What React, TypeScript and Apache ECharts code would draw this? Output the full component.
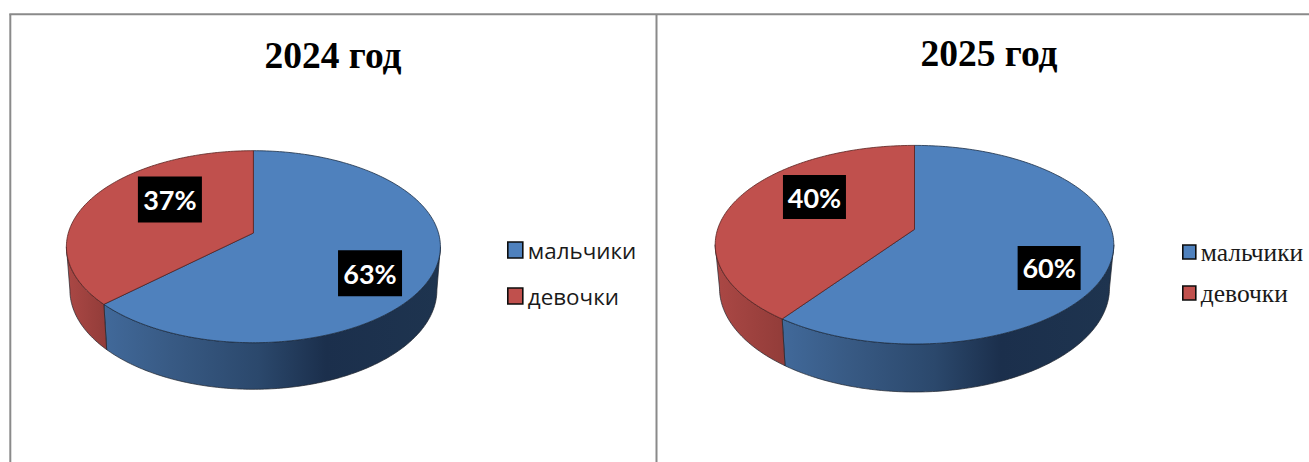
import React, { useEffect, useRef } from "react";
import * as echarts from "echarts";

const categories = ["мальчики", "девочки"];
const titles = ["2024 год", "2025 год"];
const shares2024 = [63, 37];
const shares2025 = [60, 40];

const TOP_COLORS = ["#4f81bd", "#c0504d"];
const EDGE_COLORS = ["#1c2e46", "#5a2220"];
const WALL_STOPS = [
  [
    [0, "#41699a"],
    [0.2, "#385a84"],
    [0.46, "#2b486c"],
    [0.66, "#1b2f4c"],
    [1, "#1e344f"],
  ],
  [
    [0, "#ab4845"],
    [1, "#923c39"],
  ],
];

type Geom = {
  cx: number; cy: number; rx: number; ry: number; apexY: number;
  bottomY: number; bottomRx: number; bottomRy: number;
  boxW: number; boxH: number; labelShift: number[][];
};

const GEOM_LEFT: Geom = {
  cx: 253.4, cy: 246.7, rx: 187, ry: 96, apexY: 233,
  bottomY: 290, bottomRx: 183.5, bottomRy: 99.3,
  boxW: 64, boxH: 46, labelShift: [[2, 15], [23, -10]],
};
const GEOM_RIGHT: Geom = {
  cx: 914.5, cy: 244.7, rx: 199.3, ry: 99.3, apexY: 229.3,
  bottomY: 288, bottomRx: 195, bottomRy: 104,
  boxW: 63, boxH: 44, labelShift: [[9, 18.6], [18, -13.4]],
};

// Perspective map: the centre of a round pie lands on the apex, above the ellipse's centre.
function project(g: Geom, x: number, y: number) {
  const a = (g.cy - g.apexY) / g.ry;
  const d = 1 - a * y;
  return [(x * Math.sqrt(1 - a * a)) / d, (y - a) / d];
}
// Clockwise from twelve o'clock; result is the same kind of angle on the drawn ellipse.
function screenAngle(g: Geom, theta: number) {
  const [px, py] = project(g, Math.sin(theta), -Math.cos(theta));
  let phi = Math.atan2(px, -py);
  if (phi < -1e-6) phi += Math.PI * 2;
  if (theta >= Math.PI * 2 - 1e-6) phi = Math.PI * 2;
  return phi;
}
const onTop = (g: Geom, phi: number) => [g.cx + g.rx * Math.sin(phi), g.cy - g.ry * Math.cos(phi)];
const onBottom = (g: Geom, phi: number) => [
  g.cx + g.bottomRx * Math.sin(phi),
  g.bottomY - g.bottomRy * Math.cos(phi),
];
function sweep(from: number, to: number) {
  const n = Math.max(2, Math.ceil(((to - from) * 180) / Math.PI));
  const out: number[] = [];
  for (let i = 0; i <= n; i++) out.push(from + ((to - from) * i) / n);
  return out;
}

function makeSeries(shares: number[], g: Geom, chartName: string) {
  const total = shares.reduce((s, v) => s + v, 0);
  return shares.map((value, idx) => {
    const before = shares.slice(0, idx).reduce((s, v) => s + v, 0);
    return {
      type: "custom",
      id: `${chartName}-${idx}`,
      name: categories[idx],
      coordinateSystem: "none",
      silent: true,
      z: 2,
      itemStyle: { color: TOP_COLORS[idx] },
      data: [[value]],
      renderItem: (_p: any, api: any) => {
        const v = api.value(0) as number;
        const t0 = (before / total) * Math.PI * 2;
        const t1 = ((before + v) / total) * Math.PI * 2;
        const p0 = screenAngle(g, t0);
        const p1 = screenAngle(g, t1);
        const children: any[] = [];

        const w0 = Math.max(p0, Math.PI / 2);
        const w1 = Math.min(p1, (Math.PI * 3) / 2);
        if (w1 > w0) {
          const angles = sweep(w0, w1);
          const points = [
            ...angles.map((a) => onTop(g, a)),
            ...angles.slice().reverse().map((a) => onBottom(g, a)),
          ];
          children.push({
            type: "polygon",
            shape: { points },
            style: {
              fill: new echarts.graphic.LinearGradient(
                0, 0, 1, 0,
                WALL_STOPS[idx].map(([offset, color]) => ({ offset, color })) as any
              ),
              stroke: "#20242c",
              lineWidth: 0.7,
            },
          });
        }

        const apex = [g.cx, g.apexY];
        children.push({
          type: "polygon",
          shape: { points: [apex, ...sweep(p0, p1).map((a) => onTop(g, a))] },
          style: { fill: TOP_COLORS[idx], stroke: EDGE_COLORS[idx], lineWidth: 0.8 },
        });

        const mid = (t0 + t1) / 2;
        const [mx, my] = project(g, 0.65 * Math.sin(mid), -0.65 * Math.cos(mid));
        const lx = g.cx + mx * g.rx + g.labelShift[idx][0];
        const ly = g.cy + my * g.ry + g.labelShift[idx][1];
        children.push({
          type: "rect",
          shape: { x: lx - g.boxW / 2, y: ly - g.boxH / 2, width: g.boxW, height: g.boxH },
          style: { fill: "#000000" },
        });
        children.push({
          type: "text",
          style: {
            text: `${Math.round((v / total) * 100)}%`,
            x: lx,
            y: ly,
            align: "center",
            verticalAlign: "middle",
            fill: "#ffffff",
            fontFamily: "Lato",
            fontWeight: 700,
            fontSize: 27,
          },
        });
        return { type: "group", children };
      },
    };
  });
}

const FRAME = "#8a8a8a";

export default function App() {
  const ref = useRef<HTMLDivElement>(null);
  useEffect(() => {
    document.body.style.margin = "0";
    document.body.style.background = "#ffffff";
    const chart = echarts.init(ref.current!, undefined, { renderer: "svg" });
    const legendBase = {
      orient: "vertical",
      icon: "rect",
      selectedMode: false,
      padding: 0,
      data: categories,
      itemStyle: { borderColor: "#0d0d0d", borderWidth: 1.6 },
    };
    chart.setOption({
      animation: false,
      backgroundColor: "#ffffff",
      title: [
        {
          text: titles[0], left: 328, top: 31, textAlign: "center",
          textStyle: { fontFamily: "Liberation Serif", fontWeight: "bold", fontSize: 37.5, color: "#000" },
        },
        {
          text: titles[1], left: 984, top: 29, textAlign: "center",
          textStyle: { fontFamily: "Liberation Serif", fontWeight: "bold", fontSize: 37.5, color: "#000" },
        },
      ],
      legend: [
        {
          ...legendBase,
          left: 507, top: 239,
          itemWidth: 15, itemHeight: 16, itemGap: 24,
          textStyle: { fontFamily: "Open Sans", fontSize: 22.4, color: "#1a1a1a" },
        },
        {
          ...legendBase,
          left: 1182, top: 239,
          itemWidth: 13, itemHeight: 14, itemGap: 15,
          textStyle: { fontFamily: "Liberation Serif", fontSize: 25.5, color: "#1a1a1a" },
        },
      ],
      graphic: [
        { type: "line", silent: true, shape: { x1: 9.3, y1: 14.3, x2: 1309, y2: 14.3 }, style: { stroke: FRAME, lineWidth: 2 } },
        { type: "line", silent: true, shape: { x1: 10.3, y1: 14.3, x2: 10.3, y2: 462 }, style: { stroke: FRAME, lineWidth: 2 } },
        { type: "line", silent: true, shape: { x1: 656.5, y1: 14.3, x2: 656.5, y2: 462 }, style: { stroke: FRAME, lineWidth: 2 } },
      ],
      series: [
        ...makeSeries(shares2024, GEOM_LEFT, "y2024"),
        ...makeSeries(shares2025, GEOM_RIGHT, "y2025"),
      ],
    });
    return () => chart.dispose();
  }, []);
  return <div ref={ref} style={{ width: 1309, height: 462 }} />;
}
